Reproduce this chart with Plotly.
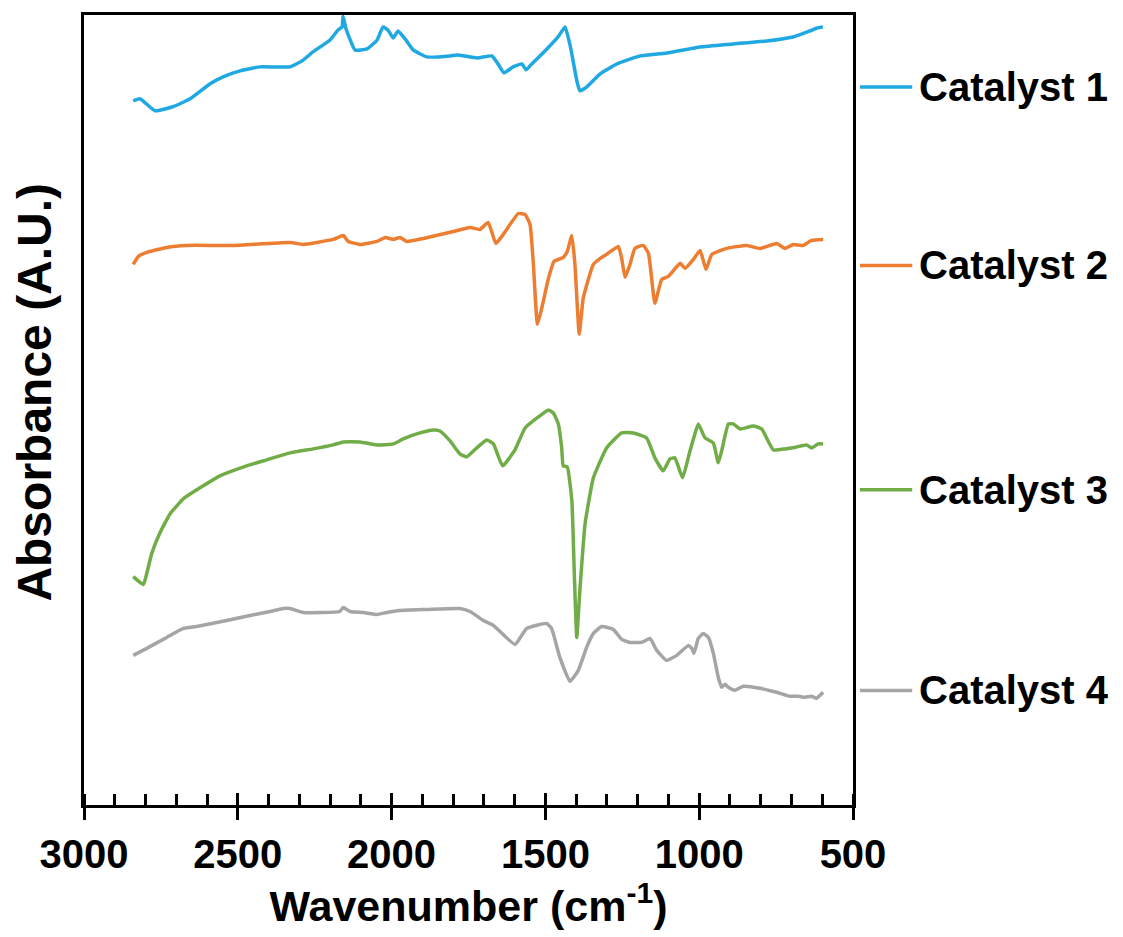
import plotly.graph_objects as go

# FTIR absorbance spectra (arbitrary units, offset for clarity)
wn_1 = [2840, 2818, 2805, 2769, 2711, 2655, 2590, 2548, 2493, 2428, 2330, 2291, 2256, 2200, 2174,
        2161, 2158, 2148, 2119, 2080, 2047, 2028, 2012, 1995, 1979, 1956, 1930, 1885, 1810, 1787,
        1722, 1674, 1654, 1635, 1605, 1576, 1563, 1544, 1495, 1459, 1436, 1420, 1397, 1388, 1365,
        1322, 1267, 1192, 1105, 997, 890, 780, 695, 640, 617, 598]
abs_1 = [7.06, 7.08, 7.05, 6.96, 7.00, 7.08, 7.23, 7.30, 7.36, 7.40, 7.40, 7.46, 7.55, 7.67, 7.77,
         7.80, 7.91, 7.78, 7.57, 7.58, 7.67, 7.80, 7.77, 7.69, 7.76, 7.68, 7.57, 7.50, 7.51, 7.52,
         7.49, 7.51, 7.43, 7.34, 7.40, 7.43, 7.37, 7.43, 7.58, 7.70, 7.80, 7.62, 7.25, 7.16, 7.20,
         7.33, 7.43, 7.51, 7.54, 7.60, 7.63, 7.66, 7.70, 7.76, 7.79, 7.80]

wn_2 = [2840, 2823, 2796, 2731, 2666, 2515, 2330, 2287, 2190, 2157, 2141, 2103, 2048, 2021, 1994,
        1973, 1951, 1897, 1799, 1745, 1713, 1686, 1661, 1637, 1588, 1566, 1550, 1539, 1526, 1512,
        1490, 1472, 1442, 1429, 1414, 1404, 1390, 1377, 1344, 1317, 1301, 1263, 1252, 1241, 1225,
        1209, 1182, 1165, 1144, 1122, 1100, 1062, 1046, 1019, 997, 978, 959, 911, 846, 802, 748,
        721, 694, 662, 635, 597]
abs_2 = [5.42, 5.50, 5.54, 5.59, 5.61, 5.61, 5.64, 5.62, 5.67, 5.71, 5.65, 5.62, 5.65, 5.69, 5.67,
         5.69, 5.65, 5.68, 5.75, 5.79, 5.77, 5.84, 5.63, 5.72, 5.93, 5.92, 5.82, 5.42, 4.82, 4.98,
         5.28, 5.45, 5.49, 5.55, 5.71, 5.42, 4.72, 5.08, 5.42, 5.49, 5.52, 5.60, 5.48, 5.29, 5.42,
         5.58, 5.61, 5.53, 5.03, 5.27, 5.30, 5.43, 5.38, 5.47, 5.56, 5.37, 5.52, 5.58, 5.61, 5.58, 5.63,
         5.58, 5.62, 5.61, 5.66, 5.67]

wn_3 = [2840, 2807, 2796, 2780, 2753, 2720, 2677, 2623, 2558, 2471, 2406, 2330, 2255, 2190, 2157,
        2103, 2048, 1994, 1962, 1908, 1864, 1843, 1810, 1778, 1756, 1723, 1691, 1669, 1639, 1599,
        1566, 1523, 1490, 1474, 1458, 1447, 1442, 1429, 1414, 1406, 1398, 1388, 1371, 1344, 1301,
        1252, 1214, 1171, 1144, 1117, 1095, 1079, 1054, 1030, 1014, 1003, 981, 954, 938, 927, 905,
        889, 867, 824, 797, 759, 721, 683, 651, 635, 613, 597]
abs_3 = [2.29, 2.21, 2.32, 2.52, 2.73, 2.92, 3.07, 3.18, 3.30, 3.40, 3.46, 3.53, 3.57, 3.61, 3.64,
         3.64, 3.61, 3.62, 3.67, 3.73, 3.76, 3.75, 3.65, 3.52, 3.49, 3.58, 3.66, 3.62, 3.40, 3.56,
         3.78, 3.89, 3.96, 3.93, 3.82, 3.58, 3.40, 3.39, 3.05, 2.32, 1.68, 2.15, 2.82, 3.28, 3.58,
         3.73, 3.73, 3.68, 3.48, 3.35, 3.47, 3.48, 3.28, 3.55, 3.72, 3.82, 3.68, 3.63, 3.43, 3.55, 3.82,
         3.82, 3.77, 3.80, 3.77, 3.56, 3.57, 3.59, 3.61, 3.58, 3.62, 3.62]

wn_4 = [2840, 2796, 2731, 2677, 2634, 2536, 2460, 2395, 2352, 2330, 2287, 2168, 2157, 2135, 2092,
        2048, 2016, 1973, 1886, 1778, 1745, 1702, 1669, 1599, 1561, 1496, 1480, 1453, 1420, 1393,
        1366, 1344, 1317, 1279, 1252, 1225, 1187, 1160, 1138, 1106, 1073, 1035, 1024, 1017, 1003,
        987, 970, 954, 938, 927, 916, 905, 884, 857, 802, 748, 705, 678, 656, 635, 619, 597]
abs_4 = [1.50, 1.57, 1.68, 1.77, 1.79, 1.85, 1.90, 1.94, 1.97, 1.97, 1.93, 1.94, 1.98, 1.94, 1.93,
         1.91, 1.93, 1.95, 1.96, 1.97, 1.94, 1.85, 1.80, 1.61, 1.77, 1.82, 1.77, 1.48, 1.24, 1.35,
         1.58, 1.72, 1.79, 1.76, 1.66, 1.63, 1.63, 1.67, 1.55, 1.45, 1.50, 1.60, 1.57, 1.52, 1.67,
         1.72, 1.68, 1.52, 1.28, 1.18, 1.21, 1.18, 1.15, 1.19, 1.17, 1.13, 1.09, 1.09, 1.08, 1.09,
         1.07, 1.13]

names = ["Catalyst 1", "Catalyst 2", "Catalyst 3", "Catalyst 4"]
colors = ["#1FA8E1", "#ED7D31", "#70AD47", "#A5A5A5"]
series = [(wn_1, abs_1), (wn_2, abs_2), (wn_3, abs_3), (wn_4, abs_4)]
legend_y = [0.909, 0.683, 0.399, 0.145]

FONT = "Liberation Sans, Arial, sans-serif"

fig = go.Figure()
for (wn, ab), name, col in zip(series, names, colors):
    fig.add_trace(go.Scatter(x=wn, y=ab, mode="lines", name=name,
                             line=dict(color=col, width=3.5, shape="spline", smoothing=0.4),
                             showlegend=False))

# Labels beside the plot, each with a short line sample
for name, col, ly in zip(names, colors, legend_y):
    fig.add_shape(type="line", xref="paper", yref="paper", x0=1.009, x1=1.077, y0=ly, y1=ly,
                  line=dict(color=col, width=3.5))
    fig.add_annotation(text=name, xref="paper", yref="paper", x=1.083, y=ly,
                       xanchor="left", yanchor="middle", showarrow=False,
                       font=dict(family=FONT, size=40, color="black", weight="bold"))

# Vertical axis title
fig.add_annotation(text="Absorbance (A.U.)", xref="paper", yref="paper", x=-0.064, y=0.523,
                   xanchor="center", yanchor="middle", textangle=-90, showarrow=False,
                   font=dict(family=FONT, size=48, color="black", weight="bold"))

axis_line = dict(showline=True, linecolor="black", linewidth=3, mirror=True,
                 showgrid=False, zeroline=False)

fig.update_layout(
    width=1123, height=937,
    margin=dict(l=84, r=270, t=13, b=132),
    paper_bgcolor="white", plot_bgcolor="white",
    font=dict(family=FONT, color="black"),
    xaxis=dict(range=[3000, 500], tickmode="linear", tick0=500, dtick=500,
               ticks="outside", ticklen=12, tickwidth=3, tickcolor="black",
               minor=dict(ticks="inside", dtick=100, tick0=500, ticklen=11, tickwidth=2.5,
                          tickcolor="black"),
               tickfont=dict(family=FONT, size=40, weight="bold"),
               title=dict(text="Wavenumber (cm<sup>-1</sup>)", standoff=14,
                          font=dict(family=FONT, size=43, weight="bold")),
               **axis_line),
    xaxis2=dict(range=[3000, 500], overlaying="x", anchor="y", side="bottom",
                tickmode="linear", tick0=500, dtick=500, ticks="inside", ticklen=12,
                tickwidth=3, tickcolor="black", showticklabels=False,
                showline=False, showgrid=False, zeroline=False),
    yaxis=dict(range=[0, 7.92], ticks="", showticklabels=False, **axis_line),
)

# Invisible trace so the overlay axis (inward major ticks) is drawn
fig.add_trace(go.Scatter(x=[wn_1[0]], y=[abs_1[0]], xaxis="x2", yaxis="y", mode="lines",
                         line=dict(width=0), hoverinfo="skip", showlegend=False))

fig.write_html("out.html")
